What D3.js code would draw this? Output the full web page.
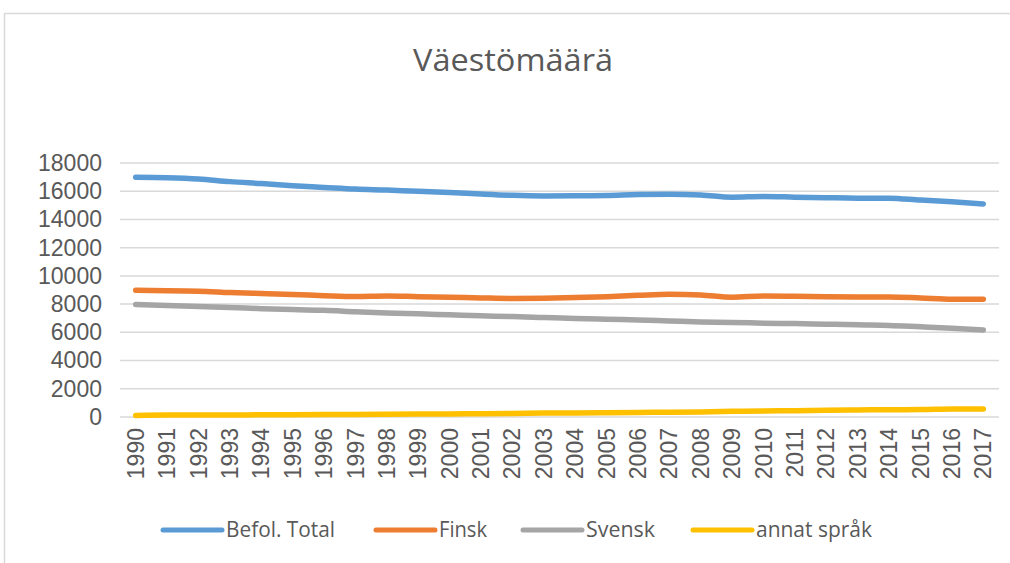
<!DOCTYPE html>
<html>
<head>
<meta charset="utf-8">
<script src="https://cdn.jsdelivr.net/npm/d3@7"></script>
<style>
  body { margin: 0; background: #fff; }
  svg { display: block; }
</style>
</head>
<body>
<svg id="chart" width="1010" height="563"></svg>
<script>
// years on the x axis
var years = ["1990","1991","1992","1993","1994","1995","1996","1997","1998","1999",
             "2000","2001","2002","2003","2004","2005","2006","2007","2008","2009",
             "2010","2011","2012","2013","2014","2015","2016","2017"];

var befolTotal = [16990,16960,16870,16680,16540,16390,16270,16150,16080,15990,15910,15800,15710,15670,
                  15680,15700,15770,15790,15740,15580,15630,15580,15540,15510,15510,15370,15250,15100];
var finsk = [8980,8940,8920,8820,8750,8680,8600,8540,8580,8530,8490,8440,8400,8420,
             8460,8530,8620,8700,8650,8490,8580,8560,8530,8510,8510,8440,8350,8350];
var svensk = [7980,7900,7830,7760,7680,7610,7560,7460,7370,7310,7240,7170,7120,7050,
              6980,6930,6880,6810,6740,6700,6650,6620,6580,6530,6490,6390,6290,6170];
var annatSprak = [110,140,140,140,160,165,170,185,195,210,220,235,255,275,
                  290,300,320,340,360,400,425,450,475,495,520,525,565,565];

var yTicks = [0,2000,4000,6000,8000,10000,12000,14000,16000,18000];

var seriesNames = ["Befol. Total", "Finsk", "Svensk", "annat språk"];
var seriesColors = ["#5B9BD5", "#ED7D31", "#A5A5A5", "#FFC000"];

var svg = d3.select("#chart");
var textColor = "#595959";

// chart frame (runs off the right and bottom edge)
svg.append("rect")
    .attr("x", 4.5).attr("y", 13.5)
    .attr("width", 1020).attr("height", 570)
    .attr("fill", "none")
    .attr("stroke", "#D9D9D9")
    .attr("stroke-width", 1.5);

// title
svg.append("text")
    .attr("x", 513).attr("y", 71)
    .attr("text-anchor", "middle")
    .attr("fill", textColor)
    .style("font-family", "'Open Sans', sans-serif")
    .style("font-size", "31px")
    .attr("textLength", 200)
    .attr("lengthAdjust", "spacingAndGlyphs")
    .text("Väestömäärä");

var x = d3.scaleBand().domain(years).range([120, 999]).padding(0);
var y = d3.scaleLinear().domain([0, 18000]).range([417, 163]);

// gridlines
svg.append("g")
    .selectAll("line")
    .data(yTicks)
    .enter()
    .append("line")
    .attr("x1", 120).attr("x2", 999)
    .attr("y1", d => y(d)).attr("y2", d => y(d))
    .attr("stroke", "#D9D9D9")
    .attr("stroke-width", 1.5);

// y axis labels
var yAxis = d3.axisLeft(y).tickValues(yTicks).tickSize(0).tickPadding(0).tickFormat(d3.format("d"));
var gy = svg.append("g").attr("transform", "translate(102,0)").call(yAxis);
gy.select(".domain").remove();
gy.selectAll("text")
    .attr("fill", textColor)
    .style("font-family", "'Liberation Sans', Arial, sans-serif")
    .style("font-size", "23px");

// x axis labels, rotated
var xAxis = d3.axisBottom(x).tickSize(0).tickPadding(0);
var gx = svg.append("g").attr("transform", "translate(0,428)").call(xAxis);
gx.select(".domain").remove();
gx.selectAll("text")
    .attr("fill", textColor)
    .style("font-family", "'Liberation Sans', Arial, sans-serif")
    .style("font-size", "23px")
    .attr("text-anchor", "end")
    .attr("transform", "rotate(-90)")
    .attr("x", 0).attr("y", 0).attr("dy", "0.35em");

// lines
var allSeries = [befolTotal, finsk, svensk, annatSprak];
var line = d3.line()
    .x((d, i) => x(years[i]) + x.bandwidth() / 2)
    .y(d => y(d))
    .curve(d3.curveMonotoneX);

svg.append("g")
    .selectAll("path")
    .data(allSeries)
    .enter()
    .append("path")
    .attr("d", d => line(d))
    .attr("fill", "none")
    .attr("stroke", (d, i) => seriesColors[i])
    .attr("stroke-width", 5.5)
    .attr("stroke-linecap", "round")
    .attr("stroke-linejoin", "round");

// legend
var legendX = [163, 376, 523, 693];
var legendTextLen = [109, 48, 69, 116];
var lg = svg.append("g");
seriesNames.forEach((name, i) => {
    lg.append("line")
        .attr("x1", legendX[i]).attr("x2", legendX[i] + 59)
        .attr("y1", 530).attr("y2", 530)
        .attr("stroke", seriesColors[i])
        .attr("stroke-width", 5)
        .attr("stroke-linecap", "round");
    lg.append("text")
        .attr("x", legendX[i] + 63).attr("y", 537)
        .attr("fill", textColor)
        .style("font-family", "'Open Sans', sans-serif")
        .style("font-size", "21px")
        .attr("textLength", legendTextLen[i])
        .attr("lengthAdjust", "spacingAndGlyphs")
        .text(name);
});
</script>
</body>
</html>
